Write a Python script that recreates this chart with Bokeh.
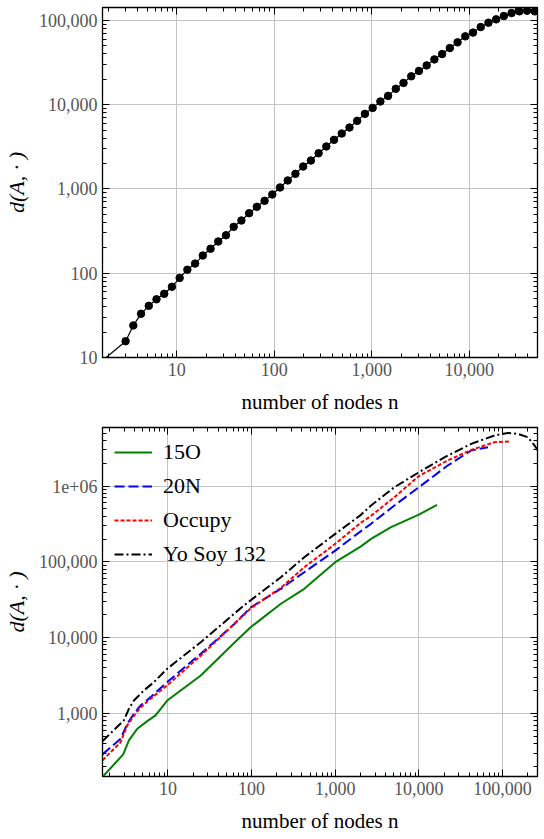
from bokeh.plotting import figure
from bokeh.layouts import column
from bokeh.models import (LogAxis, LogTicker, NumeralTickFormatter,
                          CustomJSTickFormatter, Range1d)
from bokeh.embed import file_html
from bokeh.resources import INLINE

# ---------------- data: top panel ----------------
top_n = [1.44, 2.986, 3.583, 4.300, 5.160, 6.192, 7.430, 8.916, 10.70, 12.84,
         15.41, 18.49, 22.19, 26.62, 31.95, 38.34, 46.01, 55.21, 66.25, 79.50,
         95.40, 114.5, 137.4, 164.8, 197.8, 237.4, 284.9, 341.8, 410.2, 492.2,
         590.7, 708.8, 850.6, 1020.7, 1224.8, 1469.8, 1763.7, 2116.5, 2539.8,
         3047.7, 3657.3, 4388.7, 5266.5, 6319.7, 7583.7, 9100.4, 10920.5,
         13104.6, 15725.6, 18870.7, 22644.8, 27173.8, 32608.5, 39130.2, 46956.3]
top_d = [7.7, 15.6, 24, 33, 41, 49, 57, 69, 88, 110,
         130, 162, 195, 238, 282, 355, 422, 515, 613, 722,
         860, 1040, 1260, 1510, 1845, 2170, 2650, 3190, 3820, 4540,
         5350, 6420, 7770, 9150, 10900, 12700, 15400, 18100, 21700,
         25100, 29200, 34400, 39800, 46900, 54800, 64600, 71500,
         83200, 93800, 102700, 112500, 122000, 127800, 130000, 127800]

# ---------------- data: bottom panel ----------------
n_15O = [1.6, 2.92, 3.41, 4.3, 5.66, 7.1, 9.8, 24.7, 61.7, 98, 224, 426,
         1000, 2030, 2680, 4650, 10000, 16500]
d_15O = [140, 288, 440, 628, 791, 942, 1480, 3170, 8500, 13800, 28000, 44100,
         99000, 160000, 201000, 287000, 420000, 566000]

n_20N = [1.65, 2.72, 3.27, 3.92, 4.71, 6.2, 9.8, 24.7, 61.7, 98, 224, 426,
         1000, 2030, 2680, 5100, 10000, 22100, 42200, 67000]
d_20N = [288, 464, 731, 990, 1275, 1640, 2590, 6140, 15000, 25200, 44100, 73100,
         141000, 255000, 318000, 555000, 968000, 1870000, 2950000, 3260000]

n_occ = [1.65, 2.72, 3.27, 3.92, 4.71, 6.2, 9.8, 24.7, 98, 224, 426,
         1000, 2030, 2680, 5100, 10000, 22100, 42200, 80000, 121000]
d_occ = [240, 417, 700, 930, 1200, 1560, 2350, 5800, 24500, 45500, 85000,
         173000, 330000, 405000, 714000, 1360000, 2180000, 3000000, 3800000, 3870000]

n_yo = [1.65, 2.97, 3.41, 3.92, 5.16, 6.8, 9.8, 24.7, 81, 224, 426,
        1000, 2030, 2680, 5100, 10000, 20200, 42200, 80000, 116000, 153000,
        201000, 242000, 262000]
d_yo = [430, 809, 1150, 1480, 2010, 2590, 3890, 8710, 26600, 62800, 115000,
        234000, 418000, 555000, 968000, 1520000, 2400000, 3610000, 4650000,
        5040000, 4900000, 4420000, 3430000, 3000000]

series_names = ["15O", "20N", "Occupy", "Yo Soy 132"]

FONT = "'Liberation Serif', 'DejaVu Serif', serif"
TICK_COLOR = "#555555"


def make_fig(xr, yr, fh, ylab_fmt):
    p = figure(x_axis_type="log", y_axis_type="log",
               x_range=Range1d(*xr), y_range=Range1d(*yr),
               frame_width=435, frame_height=fh,
               min_border_left=102, min_border_right=7,
               min_border_top=7, min_border_bottom=63,
               output_backend="svg", toolbar_location=None)
    p.outline_line_color = "black"
    p.outline_line_width = 1.3
    p.background_fill_color = "white"
    p.border_fill_color = "white"

    xt = LogTicker(num_minor_ticks=10, desired_num_ticks=6)
    yt = LogTicker(num_minor_ticks=10, desired_num_ticks=6)
    p.xaxis[0].ticker = xt
    p.yaxis[0].ticker = yt
    p.xgrid[0].ticker = xt
    p.ygrid[0].ticker = yt
    p.xaxis[0].formatter = NumeralTickFormatter(format="0,0")
    p.yaxis[0].formatter = ylab_fmt

    for ax in [p.xaxis[0], p.yaxis[0]]:
        ax.major_tick_in = 7
        ax.major_tick_out = 0
        ax.minor_tick_in = 4
        ax.minor_tick_out = 0
        ax.major_tick_line_color = "black"
        ax.minor_tick_line_color = "black"
        ax.axis_line_color = "black"
        ax.major_label_text_font = FONT
        ax.major_label_text_font_size = "18px"
        ax.major_label_text_color = TICK_COLOR
        ax.major_label_standoff = 5
        ax.axis_label_text_font = FONT
        ax.axis_label_text_font_size = "21px"
        ax.axis_label_text_color = "black"
        ax.axis_label_standoff = 11

    p.xaxis[0].axis_label = "number of nodes n"
    p.xaxis[0].axis_label_text_font_style = "normal"
    p.yaxis[0].axis_label = "d(A, \u00b7 )"
    p.yaxis[0].axis_label_text_font_style = "italic"
    p.yaxis[0].axis_label_text_font_size = "22px"
    p.yaxis[0].axis_label_standoff = 7

    for loc, tk in [("above", xt), ("right", yt)]:
        a = LogAxis(ticker=tk, formatter=CustomJSTickFormatter(code="return '';"))
        a.major_tick_in = 7
        a.major_tick_out = 0
        a.minor_tick_in = 4
        a.minor_tick_out = 0
        a.major_label_standoff = 0
        a.axis_line_color = "black"
        p.add_layout(a, loc)

    p.xgrid.grid_line_color = "#c4c4c4"
    p.ygrid.grid_line_color = "#c4c4c4"
    p.xgrid.grid_line_width = 1
    p.ygrid.grid_line_width = 1
    return p


# ---------------- top figure ----------------
p1 = make_fig((1.73, 50100), (10, 142000), 350, NumeralTickFormatter(format="0,0"))
p1.line(top_n, top_d, line_color="black", line_width=1.2)
p1.scatter(top_n[1:], top_d[1:], size=7.5, marker="circle",
           fill_color="black", line_color="black")

# ---------------- bottom figure ----------------
fmt = CustomJSTickFormatter(code="""
    const t = Math.round(tick);
    if (t >= 1000000) { return t.toExponential(0).replace('e+', 'e+0'); }
    return t.toLocaleString('en-US');
""")
p2 = make_fig((1.65, 262000), (147, 5940000), 349, fmt)
p2.line(n_15O, d_15O, line_color="#008000", line_width=2, legend_label=series_names[0])
p2.line(n_20N, d_20N, line_color="#0000ff", line_width=2, line_dash="10 4",
        legend_label=series_names[1])
p2.line(n_occ, d_occ, line_color="#ff0000", line_width=2, line_dash="4 2",
        legend_label=series_names[2])
p2.line(n_yo, d_yo, line_color="black", line_width=2, line_dash="9 3 2 3",
        legend_label=series_names[3])

lg = p2.legend[0]
lg.location = "top_left"
lg.label_text_font = FONT
lg.label_text_font_size = "22px"
lg.label_text_color = "black"
lg.glyph_width = 38
lg.glyph_height = 20
lg.label_standoff = 11
lg.label_height = 25
lg.spacing = 8
lg.margin = 4
lg.padding = 8
lg.background_fill_alpha = 0
lg.border_line_alpha = 0

layout = column(p1, p2, spacing=0)
open("out.html", "w").write(file_html(layout, INLINE))
